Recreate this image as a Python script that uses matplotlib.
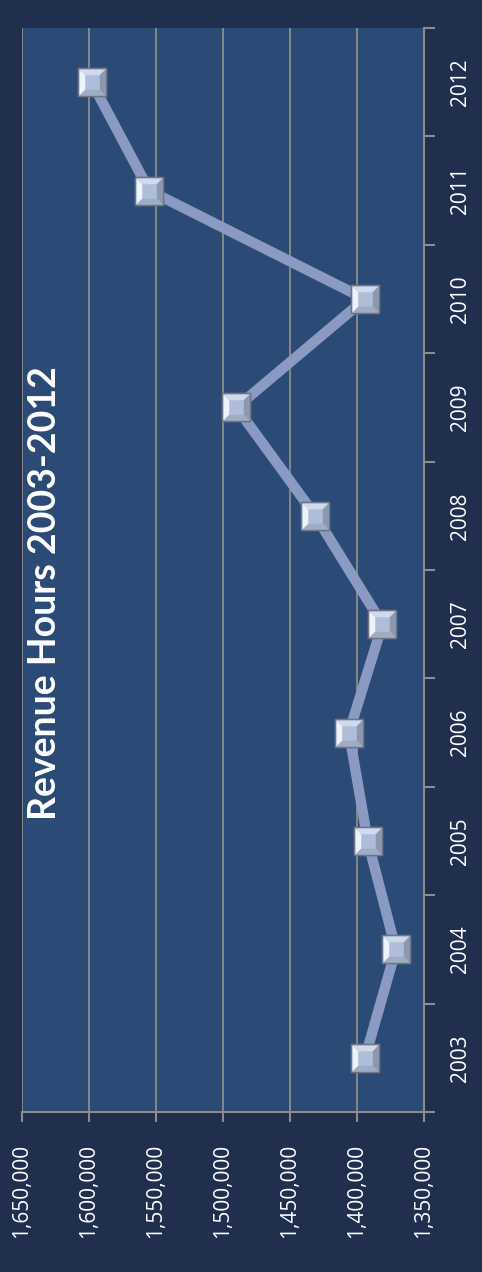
import matplotlib
matplotlib.use("Agg")
import matplotlib.pyplot as plt
from matplotlib.path import Path
import numpy as np

years = ["2003", "2004", "2005", "2006", "2007", "2008", "2009", "2010", "2011", "2012"]
revenue_hours = [1394000, 1371000, 1392000, 1406000, 1381000, 1431000, 1490000, 1394000, 1555000, 1598000]
value_ticks = [1350000, 1400000, 1450000, 1500000, 1550000, 1600000, 1650000]
title = "Revenue Hours 2003-2012"

W, H = 482, 1272
DPI = 100
fig = plt.figure(figsize=(W / DPI, H / DPI), dpi=DPI)
fig.patch.set_facecolor("#1F2F4D")

left, right, top, bottom = 22, 424, 28, 1112
ax = fig.add_axes([left / W, 1 - bottom / H, (right - left) / W, (bottom - top) / H])
ax.set_facecolor("#2C4A76")

n = len(years)
pos = np.arange(n)
ax.set_xlim(max(value_ticks), min(value_ticks))
ax.set_ylim(-0.5, n - 0.5)

grid_c = "#8C8C8C"
for v in value_ticks:
    ax.axvline(v, color=grid_c, lw=1.3, zorder=1)

for s in ["top", "left"]:
    ax.spines[s].set_visible(False)
ax.spines["right"].set_color(grid_c)
ax.spines["bottom"].set_color(grid_c)
ax.spines["right"].set_linewidth(1.5)
ax.spines["bottom"].set_linewidth(1.5)

font = "Open Sans"
ax.set_xticks(value_ticks)
ax.set_xticklabels([f"{v:,}" for v in value_ticks], rotation=90, fontsize=15,
                   color="white", family=font)
ax.tick_params(axis="x", direction="out", length=7, width=1.5, color=grid_c, pad=16)

ax.yaxis.tick_right()
ax.set_yticks(np.arange(n + 1) - 0.5)
ax.set_yticklabels([])
ax.tick_params(axis="y", which="major", direction="out", length=8, width=1.5, color=grid_c)
ax.set_yticks(pos, minor=True)
ax.set_yticklabels(years, minor=True, rotation=90, fontsize=15, color="white",
                   family=font, va="center")
ax.tick_params(axis="y", which="minor", length=0, pad=19)

ax.plot(revenue_hours, pos, color="#8A9AC2", lw=7.5, zorder=3, solid_capstyle="butt")

ms = 20.5
ax.plot(revenue_hours, pos, ls="none", marker="s", ms=ms, mfc="#AFBED8",
        mec="#6B7585", mew=1.0, zorder=4)
i = 0.55
facets = {
    "#EEF3FB": [(-1, -1), (-1, 1), (-i, i), (-i, -i), (-1, -1)],
    "#CFDBEC": [(-1, 1), (1, 1), (i, i), (-i, i), (-1, 1)],
    "#8B98B0": [(1, 1), (1, -1), (i, -i), (i, i), (1, 1)],
    "#9EACC4": [(1, -1), (-1, -1), (-i, -i), (i, -i), (1, -1)],
}
for col, verts in facets.items():
    p = Path(verts, [Path.MOVETO, Path.LINETO, Path.LINETO, Path.LINETO, Path.CLOSEPOLY])
    ax.plot(revenue_hours, pos, ls="none", marker=p, ms=ms - 1.5, mfc=col,
            mec="none", zorder=5)
ax.plot(revenue_hours, pos, ls="none", marker="s", ms=ms, mfc="none",
        mec="#6B7585", mew=1.0, zorder=6)

fig.text(45 / W, 1 - 593 / H, title, rotation=90, ha="center", va="center",
         fontsize=27, fontweight="bold", color="white", family="Lato")

fig.savefig("out.png", dpi=DPI, facecolor=fig.get_facecolor())
